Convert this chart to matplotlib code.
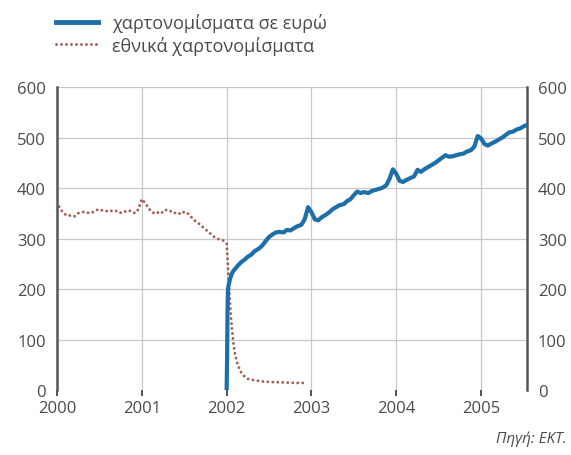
import matplotlib
matplotlib.use("Agg")
import matplotlib.pyplot as plt
from matplotlib.lines import Line2D

# national banknotes (decimal year, EUR bn)
nat_t = [2000.00, 2000.04, 2000.08, 2000.12, 2000.17, 2000.21, 2000.25, 2000.29,
         2000.33, 2000.38, 2000.42, 2000.46, 2000.50, 2000.54, 2000.58, 2000.62,
         2000.67, 2000.71, 2000.75, 2000.79, 2000.83, 2000.88, 2000.92, 2000.96,
         2001.00, 2001.04, 2001.08, 2001.12, 2001.17, 2001.21, 2001.25, 2001.29,
         2001.33, 2001.38, 2001.42, 2001.46, 2001.50, 2001.54, 2001.58, 2001.62,
         2001.67, 2001.71, 2001.75, 2001.79, 2001.83, 2001.88, 2001.92, 2001.96,
         2002.00, 2002.02, 2002.04, 2002.06, 2002.08, 2002.10, 2002.13, 2002.17,
         2002.21, 2002.25, 2002.33, 2002.42, 2002.50, 2002.67, 2002.83, 2002.92]
nat_v = [372, 358, 350, 345, 346, 344, 350, 352,
         353, 350, 352, 356, 358, 355, 354, 356,
         353, 355, 351, 352, 356, 354, 350, 358,
         378, 370, 360, 352, 349, 354, 351, 357,
         355, 350, 352, 348, 353, 350, 343, 336,
         330, 324, 318, 313, 306, 300, 298, 296,
         290, 230, 170, 125, 92, 70, 50, 35,
         27, 22, 19, 17, 16, 15, 14, 14]

# euro banknotes
eur_t = [2002.000, 2002.005, 2002.010, 2002.015, 2002.02, 2002.04, 2002.06, 2002.08,
         2002.10, 2002.13, 2002.17, 2002.21, 2002.25, 2002.29, 2002.33, 2002.38,
         2002.42, 2002.46, 2002.50, 2002.54, 2002.58, 2002.62, 2002.67, 2002.71,
         2002.75, 2002.79, 2002.83, 2002.88, 2002.92, 2002.96, 2003.00, 2003.04,
         2003.08, 2003.12, 2003.17, 2003.21, 2003.25, 2003.29, 2003.33, 2003.38,
         2003.42, 2003.46, 2003.50, 2003.54, 2003.58, 2003.62, 2003.67, 2003.71,
         2003.75, 2003.79, 2003.83, 2003.88, 2003.92, 2003.96, 2004.00, 2004.04,
         2004.08, 2004.12, 2004.17, 2004.21, 2004.25, 2004.29, 2004.33, 2004.38,
         2004.42, 2004.46, 2004.50, 2004.54, 2004.58, 2004.62, 2004.67, 2004.71,
         2004.75, 2004.79, 2004.83, 2004.88, 2004.92, 2004.96, 2005.00, 2005.04,
         2005.08, 2005.12, 2005.17, 2005.21, 2005.25, 2005.29, 2005.33, 2005.38,
         2005.42, 2005.46, 2005.50, 2005.54]
eur_v = [0, 60, 150, 195, 205, 220, 230, 236,
         240, 246, 253, 258, 264, 268, 275, 280,
         286, 295, 303, 308, 312, 313, 312, 317,
         316, 320, 324, 327, 338, 362, 352, 338,
         336, 342, 347, 352, 358, 362, 366, 368,
         374, 378, 386, 393, 390, 392, 390, 394,
         396, 398, 400, 405, 418, 437, 428, 414,
         412, 416, 420, 423, 436, 432, 437, 442,
         446, 450, 455, 460, 465, 462, 463, 465,
         467, 468, 472, 475, 482, 503, 498, 487,
         484, 488, 492, 496, 500, 505, 510, 512,
         516, 518, 522, 525]

years = [2000, 2001, 2002, 2003, 2004, 2005]
y_ticks = [0, 100, 200, 300, 400, 500, 600]

BLUE = "#1c6fa9"
RED = "#a85a55"
TXT = "#4a4a4a"
plt.rcParams["font.family"] = ["Open Sans", "DejaVu Sans"]

fig = plt.figure(figsize=(5.71, 4.56), dpi=100)
ax = fig.add_axes([0.0998, 0.1425, 0.823, 0.6645])

# grid (no line at zero)
for y in y_ticks[1:]:
    ax.axhline(y, color="#c8c8c8", lw=0.9, zorder=0)
for x in years[1:]:
    ax.axvline(x, color="#c8c8c8", lw=0.9, zorder=0)

dots = (0, (0.01, 1.7))
ax.plot(nat_t, nat_v, color=RED, lw=2.1, linestyle=dots,
        dash_capstyle="round", zorder=2)
ax.plot(eur_t, eur_v, color=BLUE, lw=3.0, solid_joinstyle="round", zorder=3)

ax.set_xlim(2000, 2005.54)
ax.set_ylim(0, 600)

for s in ["top", "bottom"]:
    ax.spines[s].set_visible(False)
for s in ["left", "right"]:
    ax.spines[s].set_color("#555555")
    ax.spines[s].set_linewidth(1.8)

ax.set_xticks(years)
ax.set_xticklabels([str(y) for y in years])
ax.set_yticks(y_ticks)
ax.tick_params(axis="x", length=4, width=1.2, color="#333333", direction="out",
               labelsize=12, labelcolor=TXT, pad=3)
ax.tick_params(axis="y", length=0, labelsize=12, labelcolor=TXT, pad=8,
               left=True, right=True, labelleft=True, labelright=True)

# legend
handles = [Line2D([], [], color=BLUE, lw=3.5),
           Line2D([], [], color=RED, lw=2.1, linestyle=dots, dash_capstyle="round")]
fig.legend(handles, ["χαρτονομίσματα σε ευρώ", "εθνικά χαρτονομίσματα"],
           loc="upper left", bbox_to_anchor=(0.07, 1.005), frameon=False,
           fontsize=13, handlelength=2.3, handletextpad=0.8, labelspacing=0.2,
           labelcolor=TXT)

fig.text(0.993, 0.02, "Πηγή: ΕΚΤ.", ha="right", va="bottom", fontsize=11,
         style="italic", color=TXT)

fig.savefig("out.png", dpi=100)
